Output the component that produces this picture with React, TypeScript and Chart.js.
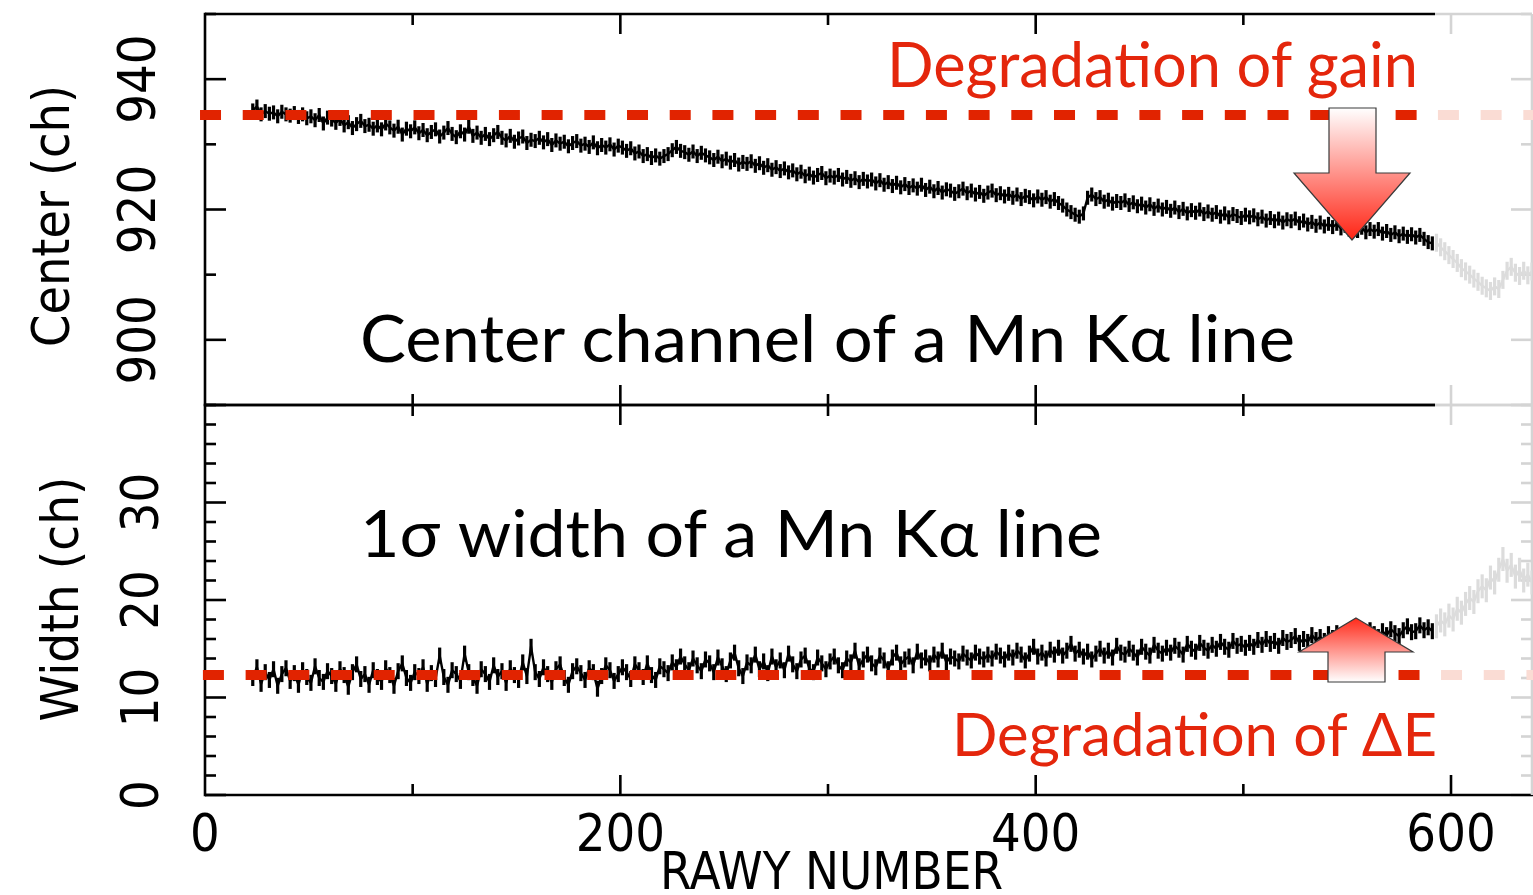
import React, { useEffect, useRef } from 'react';
import { Chart, registerables } from 'chart.js';

Chart.register(...registerables);

// ---------------- data ----------------
const RAWY_START = 23;       // first RAWY of the black series
const RAWY_STEP = 2;         // spacing of the sampled RAWY values
const RAWY_GRAY_START = 593; // first RAWY of the greyed-out series
const GRAY_FROM = 592.3;     // RAWY where the plot turns grey

// Center channel (ch) of the Mn K-alpha line
const CENTER_BLACK = [
  935.2, 935.8, 934.6, 935.1, 934.7, 934.9, 934.3, 935.0, 934.6, 934.4,
  934.8, 934.2, 934.6, 934.0, 934.3, 933.7, 934.5, 933.2, 934.1, 933.8,
  933.3, 933.9, 932.9, 933.4, 932.5, 933.1, 933.6, 932.8, 933.0, 932.4,
  932.9, 932.3, 933.2, 932.6, 932.1, 932.7, 931.5, 932.4, 932.0, 932.6,
  931.7, 932.2, 931.4, 931.9, 932.3, 931.2, 931.8, 932.5, 931.6, 931.1,
  932.0, 931.5, 932.7, 931.3, 931.8, 931.0, 931.6, 930.8, 931.4, 931.9,
  931.0, 930.6, 931.3, 930.4, 930.9, 931.2, 930.2, 930.7, 930.5, 931.0,
  930.3, 930.8, 929.9, 930.6, 930.1, 930.4, 929.7, 930.2, 930.5, 929.8,
  930.1, 929.6, 930.3, 929.4, 929.9, 929.5, 930.0, 929.2, 929.8, 929.5,
  929.0, 929.4, 928.6, 928.9, 928.2, 928.5, 927.9, 928.3, 927.8, 928.2,
  928.5, 929.1, 929.6, 929.0, 928.8, 928.4, 928.9, 928.2, 928.7, 928.3,
  928.0, 927.6, 928.1, 927.4, 927.8, 927.2, 927.6, 926.9, 927.3, 927.0,
  927.4, 926.7, 927.1, 926.4, 926.8, 926.1, 926.5, 925.9, 926.3, 925.7,
  926.0, 925.4, 925.8, 925.1, 925.5, 924.9, 925.3, 925.6, 924.8, 925.2,
  924.9, 925.3, 924.6, 925.0, 924.4, 924.8, 924.2, 924.7, 924.3, 924.6,
  924.0, 924.5, 923.8, 924.2, 923.6, 924.1, 923.4, 923.9, 923.3, 923.7,
  923.2, 923.8, 923.0, 923.5, 922.8, 923.3, 922.6, 923.1, 922.9, 922.4,
  922.8, 923.2, 922.5, 922.9, 922.3, 922.7, 922.1, 922.6, 922.9, 922.2,
  922.5, 922.0, 922.4, 921.8, 922.3, 921.6, 922.1, 921.9, 921.4, 922.0,
  921.5, 921.9, 921.2, 921.6, 921.0, 920.6, 920.0, 919.6, 919.2, 918.9,
  919.4, 921.8, 922.3, 921.6, 921.9, 921.2, 921.5, 920.9, 921.3, 921.0,
  921.4, 920.7, 921.1, 920.5, 920.9, 920.3, 920.8, 920.1, 920.6, 920.0,
  920.4, 919.8, 920.3, 919.6, 920.1, 919.4, 919.9, 919.5, 920.0, 919.3,
  919.7, 919.2, 919.6, 918.9, 919.4, 918.8, 919.3, 919.0, 918.7, 919.2,
  918.8, 919.1, 918.5, 918.9, 918.3, 918.7, 918.2, 918.6, 918.0, 918.5,
  918.2, 918.6, 917.9, 918.3, 917.7, 918.1, 917.5, 918.0, 917.4, 917.8,
  917.3, 917.8, 917.1, 917.5, 916.9, 917.3, 916.7, 917.2, 916.5, 917.0,
  916.6, 917.0, 916.3, 916.7, 916.1, 916.5, 915.9, 916.3, 915.8, 916.2,
  915.7, 916.1, 915.5, 915.0, 914.8,
];
const CENTER_GRAY = [
  914.9, 914.2, 913.6, 913.0, 912.4, 911.8, 911.0, 910.5, 910.0, 909.4,
  908.9, 908.3, 907.9, 907.5, 908.2, 907.8, 909.2, 910.6, 911.2, 910.3,
  909.8, 910.6, 909.9, 910.5,
];

// 1-sigma width (ch) of the Mn K-alpha line
const WIDTH_BLACK = [
  12.0, 13.1, 11.4, 12.6, 11.8, 12.9, 11.2, 12.4, 13.0, 11.7,
  12.5, 11.3, 12.8, 12.1, 11.5, 13.2, 12.0, 11.6, 12.7, 12.2,
  11.4, 12.9, 12.3, 11.1, 12.6, 13.4, 11.9, 12.4, 11.3, 12.8,
  12.1, 11.6, 13.0, 12.3, 11.2, 12.7, 13.5, 12.0, 11.5, 12.6,
  12.2, 13.1, 11.4, 12.5, 11.9, 14.3, 12.1, 11.3, 12.8, 12.4,
  11.7, 14.5, 12.6, 12.0, 11.2, 12.9, 12.4, 11.6, 13.3, 12.1,
  12.7, 11.5, 13.0, 12.3, 11.8, 13.6, 12.2, 15.2, 12.6, 11.9,
  13.1, 12.4, 11.6, 12.9, 13.4, 12.0, 11.3, 12.7, 13.2, 12.5,
  11.8, 13.0, 12.6, 10.9, 12.2, 13.3, 12.8, 11.7, 12.4, 13.1,
  12.6, 11.9, 13.4, 12.8, 12.1, 13.5, 12.3, 11.8, 13.2, 12.9,
  12.5, 13.6, 13.1, 14.2, 13.4, 12.8, 14.0, 13.3, 12.7, 13.9,
  13.5, 12.6, 14.1, 13.2, 12.4, 13.8, 14.6, 13.0, 12.2, 13.6,
  13.3, 14.4, 12.9, 13.7, 12.5, 14.2, 13.1, 13.8, 12.8, 14.5,
  13.4, 12.7, 13.9, 14.3, 13.0, 12.6, 14.1, 13.5, 12.9, 13.7,
  14.2, 13.3, 12.8, 14.0, 13.6, 14.8, 13.2, 13.9, 14.4, 13.5,
  13.1, 14.3, 13.8, 12.9, 14.1, 14.6, 13.4, 13.9, 14.2, 13.3,
  14.7, 13.8, 14.1, 13.5, 14.4, 13.9, 14.8, 13.6, 14.2, 14.0,
  13.7, 14.5, 14.1, 13.8, 14.6, 14.2, 13.9, 14.4, 14.0, 14.7,
  14.3, 13.9, 14.6, 14.1, 14.8, 14.4, 13.8, 14.5, 15.2, 14.2,
  14.6, 14.0, 14.9, 14.4, 15.1, 14.3, 14.8, 15.5, 14.5, 14.9,
  14.2, 14.7, 13.9, 14.5, 15.0, 14.3, 14.8, 14.1, 15.3, 14.6,
  14.4, 15.0, 14.6, 14.1, 15.2, 14.7, 14.3, 15.4, 14.8, 14.5,
  15.1, 14.6, 15.3, 14.9, 14.4, 15.5, 15.0, 14.7, 15.6, 15.1,
  14.8, 15.4, 15.0, 15.7, 15.2, 14.9, 15.8, 15.3, 15.5, 15.1,
  15.6, 15.2, 15.9, 15.4, 16.0, 15.5, 15.8, 15.3, 16.1, 15.7,
  15.9, 16.3, 15.6, 16.0, 15.7, 16.4, 15.9, 16.2, 15.8, 16.5,
  16.1, 16.6, 16.2, 15.9, 16.7, 16.3, 16.8, 16.4, 16.1, 16.9,
  16.5, 16.2, 16.8, 16.4, 17.0, 16.6, 16.3, 16.9, 17.3, 16.7,
  16.8, 17.4, 16.9, 17.2, 16.8,
];
const WIDTH_GRAY = [
  17.3, 17.9, 17.5, 18.4, 18.0, 19.1, 18.7, 19.6, 20.2, 19.8,
  20.9, 21.4, 21.0, 22.3, 21.8, 23.1, 24.2, 23.0, 23.6, 22.4,
  23.1, 22.0, 22.6, 21.8,
];

// dashed reference levels (value, first RAWY of dash pattern, RAWY where it fades)
const CENTER_REFERENCE = 934.5;
const WIDTH_REFERENCE = 12.3;
const CENTER_REF_FROM = -2.4;
const CENTER_REF_SPLIT = 593.7;
const WIDTH_REF_FROM = -1.0;
const WIDTH_REF_SPLIT = 595.2;

// axes
const X_MIN = 0;
const X_MAX = 639;
const X_TICK_LABELS = [0, 200, 400, 600];
const X_MINOR_STEP = 100;
const X_MAJOR_STEP = 200;
const CENTER_MIN = 890;
const CENTER_MAX = 950;
const CENTER_TICK_LABELS = [900, 920, 940];
const WIDTH_MIN = 0;
const WIDTH_MAX = 40;
const WIDTH_TICK_LABELS = [0, 10, 20, 30];

// ---------------- styling ----------------
const AXIS_FONT = '"DejaVu Sans Condensed", "DejaVu Sans", sans-serif';
const RED = '#E12300';
const TEXT_RED = '#E4260C';
const PINK = '#FADCD4';
const FRAME_GRAY = '#D4D4D4';
const DATA_GRAY = '#DCDCDC';

const toPoints = (values: number[], start: number) =>
  values.map((y, i) => ({ x: start + i * RAWY_STEP, y }));

const refLine = (from: number, to: number, level: number) => [
  { x: from, y: level },
  { x: to, y: level },
];

const dataStyle = (color: string, radius: number) => ({
  borderColor: color,
  backgroundColor: color,
  borderWidth: 2.4,
  pointStyle: 'line',
  pointRotation: 90,
  pointRadius: radius,
  pointHoverRadius: radius,
  pointBorderWidth: 3.2,
  pointBorderColor: color,
  pointBackgroundColor: color,
  tension: 0,
});

const dashStyle = (color: string) => ({
  borderColor: color,
  borderWidth: 10,
  borderDash: [21, 21.7],
  borderCapStyle: 'butt',
  pointRadius: 0,
  pointHoverRadius: 0,
  clip: false,
});

type FrameOpts = { yMinor: number; yMajor: number; bottomAllBlack: boolean };

function framePlugin(o: FrameOpts) {
  return {
    id: 'frame',
    beforeDatasetsDraw(chart: any) {
      const { ctx, chartArea: a } = chart;
      const xs = chart.scales.x;
      const ys = chart.scales.y;
      const gx = xs.getPixelForValue(GRAY_FROM);
      const seg = (x1: number, y1: number, x2: number, y2: number, c: string) => {
        ctx.strokeStyle = c;
        ctx.beginPath();
        ctx.moveTo(x1, y1);
        ctx.lineTo(x2, y2);
        ctx.stroke();
      };
      ctx.save();
      ctx.lineWidth = 2.6;
      ctx.lineCap = 'butt';
      // y ticks (inside, left black / right grey)
      for (let v = ys.min; v <= ys.max + 1e-6; v += o.yMinor) {
        const p = ys.getPixelForValue(v);
        const r = v / o.yMajor;
        const len = Math.abs(r - Math.round(r)) < 1e-6 ? 21 : 11;
        seg(a.left, p, a.left + len, p, '#000');
        seg(a.right, p, a.right - len, p, FRAME_GRAY);
      }
      // x ticks (inside, top and bottom)
      for (let v = X_MINOR_STEP; v < xs.max; v += X_MINOR_STEP) {
        const p = xs.getPixelForValue(v);
        const len = v % X_MAJOR_STEP === 0 ? 20 : 11;
        const c = p > gx ? FRAME_GRAY : '#000';
        seg(p, a.top, p, a.top + len, c);
        seg(p, a.bottom, p, a.bottom - len, o.bottomAllBlack ? '#000' : c);
      }
      // borders
      seg(a.left, a.top - 1.3, a.left, a.bottom + 1.3, '#000');
      seg(a.left, a.top, gx, a.top, '#000');
      seg(gx, a.top, a.right, a.top, FRAME_GRAY);
      if (o.bottomAllBlack) {
        seg(a.left, a.bottom, a.right + 2, a.bottom, '#000');
      } else {
        seg(a.left, a.bottom, gx, a.bottom, '#000');
        seg(gx, a.bottom, a.right, a.bottom, FRAME_GRAY);
      }
      seg(a.right, a.top, a.right, a.bottom, FRAME_GRAY);
      ctx.restore();
    },
  };
}

const yAxis = (min: number, max: number, labels: number[], pad: number) => ({
  type: 'linear',
  position: 'left',
  min,
  max,
  afterBuildTicks: (s: any) => {
    s.ticks = labels.map((value) => ({ value }));
  },
  afterFit: (s: any) => {
    s.width = 205;
    s.paddingTop = 0;
    s.paddingBottom = 0;
  },
  grid: { display: false },
  border: { display: false },
  ticks: {
    autoSkip: false,
    minRotation: 90,
    maxRotation: 90,
    crossAlign: 'center',
    padding: pad,
    color: '#000',
    font: { family: AXIS_FONT, size: 52 },
  },
  title: { display: false },
});

const baseOptions = {
  responsive: false,
  animation: false,
  devicePixelRatio: 1,
  events: [],
  plugins: { legend: { display: false }, tooltip: { enabled: false } },
};

export default function App() {
  const topRef = useRef<HTMLCanvasElement>(null);
  const botRef = useRef<HTMLCanvasElement>(null);

  useEffect(() => {
    const top = new Chart(topRef.current as HTMLCanvasElement, {
      type: 'line',
      data: {
        datasets: [
          { data: refLine(CENTER_REF_FROM, CENTER_REF_SPLIT, CENTER_REFERENCE), ...dashStyle(RED), order: 0 },
          { data: refLine(CENTER_REF_SPLIT, X_MAX + 1, CENTER_REFERENCE), ...dashStyle(PINK), order: 1 },
          { data: toPoints(CENTER_BLACK, RAWY_START), ...dataStyle('#000', 7), order: 2 },
          { data: toPoints(CENTER_GRAY, RAWY_GRAY_START), ...dataStyle(DATA_GRAY, 9), order: 3 },
        ],
      } as any,
      options: {
        ...baseOptions,
        layout: { autoPadding: false, padding: { top: 14, right: 1, bottom: 15, left: 0 } },
        scales: {
          x: { type: 'linear', min: X_MIN, max: X_MAX, display: false },
          y: yAxis(CENTER_MIN, CENTER_MAX, CENTER_TICK_LABELS, 11),
        },
      } as any,
      plugins: [framePlugin({ yMinor: 10, yMajor: 20, bottomAllBlack: false })],
    });

    const bot = new Chart(botRef.current as HTMLCanvasElement, {
      type: 'line',
      data: {
        datasets: [
          { data: refLine(WIDTH_REF_FROM, WIDTH_REF_SPLIT, WIDTH_REFERENCE), ...dashStyle(RED), order: 0 },
          { data: refLine(WIDTH_REF_SPLIT, X_MAX + 1, WIDTH_REFERENCE), ...dashStyle(PINK), order: 1 },
          { data: toPoints(WIDTH_BLACK, RAWY_START), ...dataStyle('#000', 8), order: 2 },
          { data: toPoints(WIDTH_GRAY, RAWY_GRAY_START), ...dataStyle(DATA_GRAY, 12), order: 3 },
        ],
      } as any,
      options: {
        ...baseOptions,
        layout: { autoPadding: false, padding: { top: 15, right: 1, bottom: 0, left: 0 } },
        scales: {
          x: {
            type: 'linear',
            position: 'bottom',
            min: X_MIN,
            max: X_MAX,
            afterBuildTicks: (s: any) => {
              s.ticks = X_TICK_LABELS.map((value) => ({ value }));
            },
            afterFit: (s: any) => {
              s.height = 100;
              s.paddingLeft = 0;
              s.paddingRight = 0;
            },
            grid: { display: false },
            border: { display: false },
            ticks: {
              autoSkip: false,
              maxRotation: 0,
              minRotation: 0,
              padding: 3,
              color: '#000',
              font: { family: AXIS_FONT, size: 52 },
            },
          },
          y: yAxis(WIDTH_MIN, WIDTH_MAX, WIDTH_TICK_LABELS, 23),
        },
      } as any,
      plugins: [framePlugin({ yMinor: 2, yMajor: 10, bottomAllBlack: true })],
    });

    return () => {
      top.destroy();
      bot.destroy();
    };
  }, []);

  return (
    <div
      style={{
        position: 'fixed',
        left: 0,
        top: 0,
        width: 1533,
        height: 895,
        background: '#fff',
        overflow: 'hidden',
      }}
    >
      <canvas
        ref={topRef}
        width={1533}
        height={420}
        style={{ position: 'absolute', left: 0, top: 0, width: 1533, height: 420 }}
      />
      <canvas
        ref={botRef}
        width={1533}
        height={505}
        style={{ position: 'absolute', left: 0, top: 390, width: 1533, height: 505 }}
      />
      <svg
        width={1533}
        height={895}
        style={{ position: 'absolute', left: 0, top: 0, pointerEvents: 'none' }}
      >
        <defs>
          <linearGradient id="arrowDown" x1="0" y1="108" x2="0" y2="240" gradientUnits="userSpaceOnUse">
            <stop offset="0" stopColor="#ffffff" />
            <stop offset="1" stopColor="#ff2414" />
          </linearGradient>
          <linearGradient id="arrowUp" x1="0" y1="618" x2="0" y2="682" gradientUnits="userSpaceOnUse">
            <stop offset="0" stopColor="#ff2a1a" />
            <stop offset="1" stopColor="#ffffff" />
          </linearGradient>
        </defs>
        <path
          d="M1329 108 H1376 V173 H1410 L1352 240 L1294 173 H1329 Z"
          fill="url(#arrowDown)"
          stroke="#3a3a3a"
          strokeWidth={1.2}
        />
        <path
          d="M1356 618 L1413 652 H1385 V682 H1328 V652 H1299 Z"
          fill="url(#arrowUp)"
          stroke="#3a3a3a"
          strokeWidth={1.2}
        />
        <text x={887} y={87} fill={TEXT_RED} fontFamily="Lato" fontSize={62} textLength={531} lengthAdjust="spacingAndGlyphs">
          Degradation of gain
        </text>
        <text x={360} y={362} fill="#000" fontFamily="Lato" fontSize={66} textLength={935} lengthAdjust="spacingAndGlyphs">
          Center channel of a Mn Kα line
        </text>
        <text x={360} y={557} fill="#000" fontFamily="Lato" fontSize={66} textLength={742} lengthAdjust="spacingAndGlyphs">
          1σ width of a Mn Kα line
        </text>
        <text x={952} y={756} fill={TEXT_RED} fontFamily="Lato" fontSize={60} textLength={485} lengthAdjust="spacingAndGlyphs">
          Degradation of ΔE
        </text>
        <text x={660} y={889} fill="#000" fontFamily={AXIS_FONT} fontSize={52} textLength={343} lengthAdjust="spacingAndGlyphs">
          RAWY NUMBER
        </text>
        <text
          transform="translate(69,216) rotate(-90)"
          textAnchor="middle"
          fill="#000"
          fontFamily="DejaVu Sans"
          fontSize={52}
          textLength={262}
          lengthAdjust="spacingAndGlyphs"
        >
          Center (ch)
        </text>
        <text
          transform="translate(78,599) rotate(-90)"
          textAnchor="middle"
          fill="#000"
          fontFamily="DejaVu Sans"
          fontSize={52}
          textLength={245}
          lengthAdjust="spacingAndGlyphs"
        >
          Width (ch)
        </text>
      </svg>
    </div>
  );
}
